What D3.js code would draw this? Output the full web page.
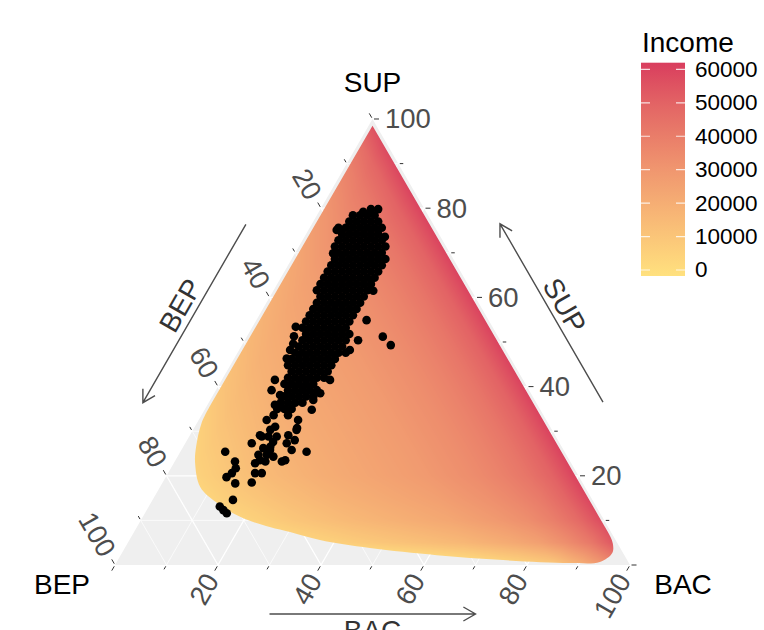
<!DOCTYPE html>
<html>
<head>
<meta charset="utf-8">
<script src="https://cdn.jsdelivr.net/npm/d3@7/dist/d3.min.js"></script>
<style>
  body { margin: 0; background: #fff; }
  svg text { font-family: 'Liberation Sans', Arial, Helvetica, sans-serif; }
</style>
</head>
<body>
<div id="chart"></div>
<script>
// households as [SUP %, BAC %]; BEP is what is left to 100
let households = [
  [79.8, 9.8], [79.8, 11.2],
  [78.4, 7.0], [78.4, 8.4], [78.4, 9.8], [78.4, 11.2],
  [77.0, 7.0], [77.0, 8.4], [77.0, 9.8], [77.0, 11.2], [77.0, 12.6],
  [75.6, 5.6], [75.6, 7.0], [75.6, 8.4], [75.6, 9.8], [75.6, 11.2], [75.6, 12.6], [75.6, 14.0],
  [74.2, 7.0], [74.2, 8.4], [74.2, 9.8], [74.2, 11.2], [74.2, 12.6], [74.2, 14.0],
  [72.8, 7.0], [72.8, 8.4], [72.8, 9.8], [72.8, 11.2], [72.8, 12.6], [72.8, 14.0], [72.8, 15.4],
  [71.4, 7.0], [71.4, 8.4], [71.4, 9.8], [71.4, 11.2], [71.4, 12.6], [71.4, 14.0], [71.4, 15.4], [71.4, 16.8],
  [70.0, 8.4], [70.0, 9.8], [70.0, 11.2], [70.0, 12.6], [70.0, 14.0], [70.0, 15.4], [70.0, 16.8],
  [68.6, 8.4], [68.6, 9.8], [68.6, 11.2], [68.6, 12.6], [68.6, 14.0], [68.6, 15.4], [68.6, 16.8], [68.6, 18.2],
  [67.2, 8.4], [67.2, 9.8], [67.2, 11.2], [67.2, 12.6], [67.2, 14.0], [67.2, 15.4], [67.2, 16.8], [67.2, 18.2],
  [65.8, 8.4], [65.8, 9.8], [65.8, 11.2], [65.8, 12.6], [65.8, 14.0], [65.8, 15.4], [65.8, 16.8], [65.8, 18.2],
  [64.4, 8.4], [64.4, 9.8], [64.4, 11.2], [64.4, 12.6], [64.4, 14.0], [64.4, 15.4], [64.4, 16.8], [64.4, 18.2],
  [63.0, 8.4], [63.0, 9.8], [63.0, 11.2], [63.0, 12.6], [63.0, 14.0], [63.0, 15.4], [63.0, 16.8], [63.0, 18.2],
  [61.6, 8.4], [61.6, 9.8], [61.6, 11.2], [61.6, 12.6], [61.6, 14.0], [61.6, 15.4], [61.6, 16.8], [61.6, 18.2],
  [60.2, 9.8], [60.2, 11.2], [60.2, 12.6], [60.2, 14.0], [60.2, 15.4], [60.2, 16.8], [60.2, 18.2],
  [58.8, 9.8], [58.8, 11.2], [58.8, 12.6], [58.8, 14.0], [58.8, 15.4], [58.8, 16.8], [58.8, 18.2],
  [57.4, 9.8], [57.4, 11.2], [57.4, 12.6], [57.4, 14.0], [57.4, 15.4], [57.4, 16.8], [57.4, 18.2],
  [56.0, 9.8], [56.0, 11.2], [56.0, 12.6], [56.0, 14.0], [56.0, 15.4], [56.0, 16.8], [56.0, 18.2],
  [54.6, 9.8], [54.6, 11.2], [54.6, 12.6], [54.6, 14.0], [54.6, 15.4], [54.6, 16.8], [54.6, 18.2],
  [53.2, 9.8], [53.2, 11.2], [53.2, 12.6], [53.2, 14.0], [53.2, 15.4], [53.2, 16.8], [53.2, 18.2],
  [51.8, 11.2], [51.8, 12.6], [51.8, 14.0], [51.8, 15.4], [51.8, 16.8], [51.8, 18.2], [51.8, 19.6],
  [50.4, 11.2], [50.4, 12.6], [50.4, 14.0], [50.4, 15.4], [50.4, 16.8], [50.4, 18.2], [50.4, 19.6],
  [49.0, 11.2], [49.0, 12.6], [49.0, 14.0], [49.0, 15.4], [49.0, 16.8], [49.0, 18.2], [49.0, 19.6],
  [47.6, 11.2], [47.6, 12.6], [47.6, 14.0], [47.6, 15.4], [47.6, 16.8], [47.6, 18.2], [47.6, 19.6], [47.6, 21.0],
  [46.2, 11.2], [46.2, 12.6], [46.2, 14.0], [46.2, 15.4], [46.2, 16.8], [46.2, 18.2], [46.2, 19.6],
  [44.8, 11.2], [44.8, 12.6], [44.8, 14.0], [44.8, 15.4], [44.8, 16.8], [44.8, 18.2], [44.8, 19.6],
  [43.4, 12.6], [43.4, 14.0], [43.4, 15.4], [43.4, 16.8], [43.4, 18.2], [43.4, 19.6],
  [42.0, 12.6], [42.0, 14.0], [42.0, 15.4], [42.0, 16.8], [42.0, 18.2], [42.0, 19.6],
  [40.6, 12.6], [40.6, 14.0], [40.6, 15.4], [40.6, 16.8], [40.6, 18.2],
  [39.2, 14.0], [39.2, 15.4], [39.2, 16.8], [39.2, 18.2], [39.2, 19.6],
  [37.8, 14.0], [37.8, 15.4], [37.8, 16.8], [37.8, 18.2], [37.8, 19.6],
  [36.4, 14.0], [36.4, 15.4], [36.4, 16.8], [36.4, 18.2],
  [35.0, 14.0], [35.0, 15.4], [35.0, 16.8],
  [33.6, 14.0], [33.6, 16.8],
  // scattered households around the main cloud
  [79.2, 8.6], [75.1, 5.5], [73.6, 15.6], [69.9, 7.4], [61.5, 19.4], [54.9, 21.4],
  [50.4, 22.0], [51.2, 26.4], [49.3, 28.9], [53.4, 8.4], [51.3, 9.1], [49.6, 9.8],
  [48.2, 9.9], [46.3, 10.2], [41.5, 10.3], [39.2, 10.8], [41.5, 21.0], [48.2, 21.5],
  [38.5, 20.6], [34.8, 20.8], [37.0, 20.0], [38.1, 13.0], [35.9, 13.1], [32.5, 13.2],
  [32.5, 19.3], [31.0, 15.6], [30.3, 15.0], [30.7, 20.0], [30.3, 20.1], [29.1, 13.6],
  [28.8, 14.1], [28.8, 15.4], [28.8, 17.0], [29.1, 19.1], [28.0, 20.9], [27.3, 19.7],
  [27.3, 12.9], [26.2, 15.7], [26.5, 16.9], [27.6, 16.9], [25.8, 17.2], [24.7, 17.1],
  [24.3, 18.6], [25.8, 21.4], [25.4, 24.5], [23.5, 21.3], [23.2, 20.8], [23.5, 16.4],
  [23.2, 17.6], [24.7, 15.5], [22.8, 15.8], [20.6, 16.9], [20.6, 18.2], [18.5, 17.3],
  [25.4, 8.7], [23.2, 11.7], [21.7, 12.6], [20.6, 12.4], [19.7, 11.8], [18.3, 14.2],
  [14.6, 15.6], [13.1, 13.8], [12.3, 14.9], [11.6, 15.9]
]

// fitted income in thousands on a 5-point lattice: one row per SUP = 0, 5, ... 100,
// each row running over BAC = 0, 5, ... up to 100 - SUP
let incomeGrid = [
  [-44, -38, -34, -30, -27, -24, -21, -18, -15, -12.5, -10, -8, -6, -4, -2, 1, 4, 8, 18, 30, 47],
  [-23, -17, -13, -9, -6, -3, 0, 3, 5.5, 8, 10, 12, 14, 16, 19, 22, 26, 33, 42, 56],
  [-13, -7, -3, 1, 4, 7, 10, 12.5, 15, 17, 19, 21, 23, 26, 29, 33, 39, 47, 59],
  [-7, -1, 3, 7, 10, 13, 15.5, 18, 20, 22, 24, 26, 29, 32, 36, 41, 49, 61],
  [-2, 4, 8, 12, 15, 17.5, 20, 22, 24, 26, 28, 31, 34, 38, 43, 50, 62],
  [1, 7, 11, 15, 17.5, 20, 22, 24, 26, 28, 31, 34, 38, 43, 50, 62],
  [4, 10, 14, 17.5, 20, 22, 24, 26, 28, 31, 34, 38, 43, 50, 62],
  [7, 13, 16.5, 20, 22, 24, 26, 28, 31, 34, 38, 43, 50, 62],
  [10, 15.5, 19, 22, 24, 26, 28, 31, 34, 38, 43, 50, 62],
  [12.5, 18, 21, 24, 26, 28, 31, 34, 38, 43, 50, 62],
  [15, 20, 23, 26, 28, 31, 34, 38, 43, 50, 62],
  [17, 22, 25, 28, 31, 34, 38, 43, 50, 62],
  [19, 24, 27, 31, 34, 38, 43, 50, 62],
  [21, 26, 30, 34, 38, 43, 50, 62],
  [23, 29, 33, 38, 43, 50, 62],
  [26, 32, 37, 43, 50, 62],
  [29, 36, 42, 50, 62],
  [33, 41, 49, 62],
  [38, 48, 61],
  [45, 60],
  [57]
]

// edge of the fitted surface as [SUP, BAC], from the right edge round to the left edge
let surfaceOutline = [
  [10, 89.4], [7.5, 91.9], [4.9, 94.2], [2.7, 95.2], [0.7, 93.8], [0.45, 88.1],
  [1.1, 74.8], [2.2, 61.4], [3.8, 47.6], [5.6, 37.0], [7.4, 30.3], [8.5, 25.8],
  [10.8, 18.9], [13.9, 12.9], [17.5, 7.8], [22.9, 4.1], [26.5, 2.5], [31.8, 0.9],
  [36, 0.6]
]
let surfaceTip = [98.5, 0.75]

let axisBreaks = [20, 40, 60, 80, 100]
let tickSteps = [0, 10, 20, 30, 40, 50, 60, 70, 80, 90, 100]
let incomeBreaks = [0, 10000, 20000, 30000, 40000, 50000, 60000]
let incomeRange = [-1800, 62000]

let width = 764
let height = 630

// ternary panel: BEP bottom-left, BAC bottom-right, SUP on top
let panelLeft = 115
let panelRight = 630
let panelBase = 565
let panelTop = panelBase - ((panelRight - panelLeft) * Math.sqrt(3)) / 2
let s3 = Math.sqrt(3) / 2

let xPositionScale = d3.scaleLinear().domain([0, 100]).range([panelLeft, panelRight])
let yPositionScale = d3.scaleLinear().domain([0, 100]).range([panelBase, panelTop])

function project(sup, bac) {
  return [xPositionScale(bac + sup / 2), yPositionScale(sup)]
}

let colorScale = d3
  .scaleLinear()
  .domain(incomeRange)
  .range(['#FFE17E', '#D93D5E'])
  .interpolate(d3.interpolateLab)
  .clamp(true)

let svg = d3
  .select('#chart')
  .append('svg')
  .attr('width', width)
  .attr('height', height)

let defs = svg.append('defs')

// grey panel
let apex = project(100, 0)
let bepCorner = project(0, 0)
let bacCorner = project(0, 100)
svg
  .append('path')
  .attr('d', 'M' + apex + 'L' + bepCorner + 'L' + bacCorner + 'Z')
  .attr('fill', '#EFEFEF')

// grid lines
let gridValues = d3.range(10, 100, 10)
let grid = svg.append('g').attr('class', 'grid')
gridValues.forEach(v => {
  let major = v % 20 === 0
  let segs = [
    [project(v, 0), project(v, 100 - v)],
    [project(0, v), project(100 - v, v)],
    [project(100 - v, 0), project(0, 100 - v)]
  ]
  segs.forEach(s => {
    grid
      .append('line')
      .attr('x1', s[0][0])
      .attr('y1', s[0][1])
      .attr('x2', s[1][0])
      .attr('y2', s[1][1])
      .attr('stroke', '#fff')
      .attr('stroke-width', major ? 1.3 : 0.7)
  })
})

// income surface, drawn pixel by pixel then clipped to its outline
function incomeAt(sup, bac) {
  let i = sup / 5
  let j = bac / 5
  let fi = Math.min(Math.floor(i), 19)
  let fj = Math.max(0, Math.min(Math.floor(j), 19 - fi))
  let u = i - fi
  let v = j - fj
  let g = incomeGrid
  if (u + v <= 1 || fi + fj >= 19) {
    return g[fi][fj] * (1 - u - v) + g[fi + 1][fj] * u + g[fi][fj + 1] * v
  }
  return (
    g[fi + 1][fj + 1] * (u + v - 1) +
    g[fi + 1][fj] * (1 - v) +
    g[fi][fj + 1] * (1 - u)
  )
}

let lutScale = d3.scaleLinear().domain(incomeRange).range([0, 255]).clamp(true)
let lut = d3.range(256).map(k => d3.rgb(colorScale(lutScale.invert(k))))

let canvas = document.createElement('canvas')
canvas.width = width
canvas.height = height
let ctx = canvas.getContext('2d')
let img = ctx.createImageData(width, height)
for (let py = Math.floor(panelTop) - 2; py <= panelBase + 2; py++) {
  for (let px = panelLeft - 2; px <= panelRight + 2; px++) {
    let sup = yPositionScale.invert(py + 0.5)
    let bac = xPositionScale.invert(px + 0.5) - sup / 2
    sup = Math.max(0, Math.min(100, sup))
    bac = Math.max(0, Math.min(100 - sup, bac))
    let c = lut[Math.round(lutScale(incomeAt(sup, bac) * 1000))]
    let o = (py * width + px) * 4
    img.data[o] = c.r
    img.data[o + 1] = c.g
    img.data[o + 2] = c.b
    img.data[o + 3] = 255
  }
}
ctx.putImageData(img, 0, 0)

let outlinePath =
  d3
    .line()
    .x(d => project(d[0], d[1])[0])
    .y(d => project(d[0], d[1])[1])
    .curve(d3.curveCatmullRom)(surfaceOutline) +
  'L' +
  project(surfaceTip[0], surfaceTip[1]) +
  'Z'

defs
  .append('clipPath')
  .attr('id', 'surface-clip')
  .append('path')
  .attr('d', outlinePath)

svg
  .append('image')
  .attr('x', 0)
  .attr('y', 0)
  .attr('width', width)
  .attr('height', height)
  .attr('href', canvas.toDataURL())
  .attr('clip-path', 'url(#surface-clip)')

// households
svg
  .append('g')
  .selectAll('circle')
  .data(households)
  .enter()
  .append('circle')
  .attr('cx', d => project(d[0], d[1])[0])
  .attr('cy', d => project(d[0], d[1])[1])
  .attr('r', 4.3)
  .attr('fill', '#000')

// ticks and tick labels for the three axes
let axes = [
  { name: 'SUP', dir: [1, 0], rotate: 0, anchor: 'start', at: v => project(v, 100 - v) },
  { name: 'BAC', dir: [-0.5, s3], rotate: -60, anchor: 'end', at: v => project(0, v) },
  { name: 'BEP', dir: [-0.5, -s3], rotate: 60, anchor: 'end', at: v => project(100 - v, 0) }
]

axes.forEach(axis => {
  let g = svg.append('g').attr('class', 'axis-' + axis.name.toLowerCase())
  tickSteps.forEach(v => {
    let p = axis.at(v)
    let len = v % 20 === 0 ? 5 : 3.5
    g.append('line')
      .attr('x1', p[0] + axis.dir[0] * 1.5)
      .attr('y1', p[1] + axis.dir[1] * 1.5)
      .attr('x2', p[0] + axis.dir[0] * (1.5 + len))
      .attr('y2', p[1] + axis.dir[1] * (1.5 + len))
      .attr('stroke', '#333')
      .attr('stroke-width', 1)
  })
  axisBreaks.forEach(v => {
    let p = axis.at(v)
    let x = p[0] + axis.dir[0] * 12.5
    let y = p[1] + axis.dir[1] * 12.5
    g.append('text')
      .attr('transform', 'translate(' + x + ',' + y + ') rotate(' + axis.rotate + ')')
      .attr('text-anchor', axis.anchor)
      .attr('dominant-baseline', 'central')
      .attr('font-size', 27.5)
      .attr('fill', '#4D4D4D')
      .text(v)
  })
})

// corner titles
let corners = [
  { label: 'SUP', x: apex[0], y: 92 },
  { label: 'BEP', x: 62, y: 594 },
  { label: 'BAC', x: 683, y: 594 }
]
svg
  .selectAll('.corner-title')
  .data(corners)
  .enter()
  .append('text')
  .attr('class', 'corner-title')
  .attr('x', d => d.x)
  .attr('y', d => d.y)
  .attr('text-anchor', 'middle')
  .attr('font-size', 28)
  .attr('fill', '#000')
  .text(d => d.label)

// direction arrows alongside each edge
function drawArrow(from, to, normal, offset, labelOffset, label, rotate) {
  let a = [from[0] + normal[0] * offset, from[1] + normal[1] * offset]
  let b = [to[0] + normal[0] * offset, to[1] + normal[1] * offset]
  let ang = Math.atan2(b[1] - a[1], b[0] - a[0])
  let head = 14
  let h1 = [b[0] - head * Math.cos(ang - Math.PI / 6), b[1] - head * Math.sin(ang - Math.PI / 6)]
  let h2 = [b[0] - head * Math.cos(ang + Math.PI / 6), b[1] - head * Math.sin(ang + Math.PI / 6)]
  svg
    .append('path')
    .attr('d', 'M' + a + 'L' + b + 'M' + h1 + 'L' + b + 'L' + h2)
    .attr('fill', 'none')
    .attr('stroke', '#4D4D4D')
    .attr('stroke-width', 1.4)
  let mx = (from[0] + to[0]) / 2 + normal[0] * labelOffset
  let my = (from[1] + to[1]) / 2 + normal[1] * labelOffset
  svg
    .append('text')
    .attr('transform', 'translate(' + mx + ',' + my + ') rotate(' + rotate + ')')
    .attr('text-anchor', 'middle')
    .attr('dominant-baseline', 'central')
    .attr('font-size', 28)
    .attr('fill', '#333')
    .text(label)
}

function along(p, q, t) {
  return [p[0] + (q[0] - p[0]) * t, p[1] + (q[1] - p[1]) * t]
}

drawArrow(along(apex, bepCorner, 0.3), along(apex, bepCorner, 0.7), [-s3, -0.5], 57, 73, 'BEP', -60)
drawArrow(along(bacCorner, apex, 0.3), along(bacCorner, apex, 0.7), [s3, -0.5], 58, 73, 'SUP', 60)
drawArrow(along(bepCorner, bacCorner, 0.3), along(bepCorner, bacCorner, 0.7), [0, 1], 49, 65, 'BAC', 0)

// colour legend
let legendScale = d3.scaleLinear().domain(incomeRange).range([276, 62.7])
let grad = defs
  .append('linearGradient')
  .attr('id', 'income-grad')
  .attr('x1', 0)
  .attr('y1', 1)
  .attr('x2', 0)
  .attr('y2', 0)
d3.range(0, 1.0001, 0.1).forEach(t => {
  grad
    .append('stop')
    .attr('offset', t)
    .attr('stop-color', colorScale(incomeRange[0] + t * (incomeRange[1] - incomeRange[0])))
})

let legend = svg.append('g').attr('class', 'legend')
legend
  .append('text')
  .attr('x', 642)
  .attr('y', 52)
  .attr('font-size', 28)
  .attr('fill', '#000')
  .text('Income')
legend
  .append('rect')
  .attr('x', 641)
  .attr('y', legendScale(incomeRange[1]))
  .attr('width', 44)
  .attr('height', legendScale(incomeRange[0]) - legendScale(incomeRange[1]))
  .attr('fill', 'url(#income-grad)')

incomeBreaks.forEach(v => {
  let y = legendScale(v)
  legend
    .append('path')
    .attr('d', 'M641,' + y + 'H650M676,' + y + 'H685')
    .attr('stroke', '#fff')
    .attr('stroke-opacity', 0.8)
    .attr('stroke-width', 1.2)
  legend
    .append('text')
    .attr('x', 695)
    .attr('y', y)
    .attr('dominant-baseline', 'central')
    .attr('font-size', 22.5)
    .attr('fill', '#000')
    .text(v)
})
</script>
</body>
</html>
